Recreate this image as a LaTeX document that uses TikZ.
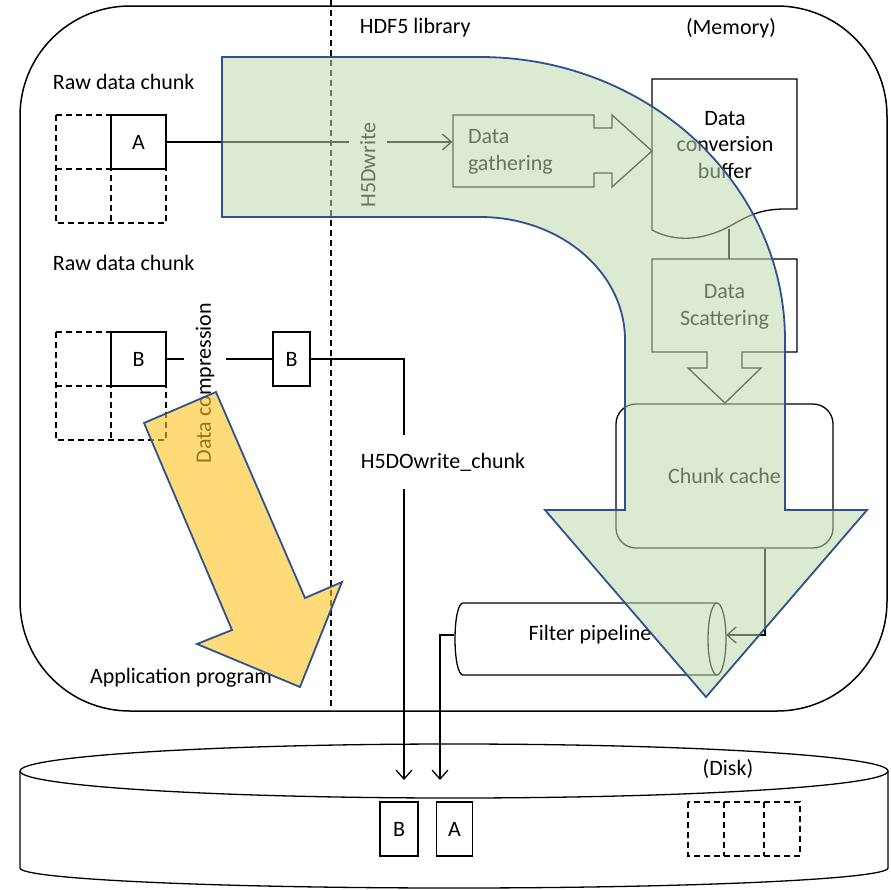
\documentclass[tikz,border=0pt]{standalone}
\usepackage{fontspec}
\setmainfont{Carlito}
\usetikzlibrary{arrows.meta}

\definecolor{flowgreen}{RGB}{190,216,170}
\definecolor{flowyellow}{RGB}{255,193,30}
\definecolor{flowedge}{RGB}{47,82,143}

\begin{document}
\begin{tikzpicture}[x=1pt,y=-1pt,line width=1.3pt,font=\fontsize{22}{26.5}\selectfont,
  chunk/.style={draw,fill=white,minimum width=55pt,minimum height=54pt,inner sep=0pt},
  slim/.style={draw,fill=white,minimum width=37pt,minimum height=54pt,inner sep=0pt},
  hole/.style={dash pattern=on 6pt off 4pt},
  wire/.style={-{Straight Barb[length=9pt,width=16pt]}},
  bigarrow/.style={draw=flowedge,line width=1.8pt}]
\useasboundingbox (0,0) rectangle (891,889);

% memory and the library border
\draw[line width=1.5pt,rounded corners=110pt] (20,6) rectangle (887,711);
\draw[hole] (331,0) -- (331,706);
\node[anchor=west] (lib) at (356,28) {HDF5 library};
\node (mem) at (731,28) {(Memory)};
\node[anchor=west] (raw1) at (49,82) {Raw data chunk};
\node[anchor=west] (raw2) at (49,263) {Raw data chunk};
\node (app) at (181,678) {Application program};

% chunk A through H5Dwrite
\draw[hole] (56,115) rectangle (166,223) (56,169) -- (166,169) (111,115) -- (111,223);
\node[chunk] (A) at (138.5,142) {A};
\node[rotate=90,inner ysep=11pt] (h5dwrite) at (368,165) {H5Dwrite};
\node[text width=111pt,inner xsep=15pt,minimum height=72pt,align=left] (gather) at (523.5,152) {Data\\gathering};
\draw (A.east) -- (A.east -| h5dwrite.north);
\draw[wire] (A.east -| h5dwrite.south) -- (A.east -| gather.west);
\draw (453,115) -- (594,115) -- (594,128) -- (612,128) -- (612,115) -- (652,151)
  -- (612,187) -- (612,173) -- (594,173) -- (594,187) -- (453,187) -- cycle;

\draw (652,230) -- (652,79) -- (797,79) -- (797,209) -- (785,209)
  .. controls (760,209) and (748,216) .. (730,226)
  .. controls (710,237) and (680,245) .. (652,230);
\node[align=center] (buffer) at (725,145) {Data\\conversion\\buffer};
\coordinate (bufbot) at (729,229);
\coordinate (scattop) at (729,259);
\draw (bufbot) -- (scattop);
\draw (707,352) -- (652,352) -- (652,259) -- (797,259) -- (797,352) -- (742,352)
  -- (742,368) -- (761,368) -- (725,403) -- (688,368) -- (707,368) -- cycle;
\node[align=center] (scatter) at (724.5,307) {Data\\Scattering};
\node[draw,rounded corners=20pt,minimum width=217pt,minimum height=144pt] (cache) at (724.5,476) {Chunk cache};

% filter pipeline
\draw (717,603) -- (463,603) .. controls (458,603) and (455,620) .. (455,639)
  .. controls (455,658) and (458,675) .. (463,675) -- (717,675);
\draw (717,639) ellipse [x radius=9,y radius=36];
\node[minimum width=271pt,minimum height=72pt,inner sep=0pt] (pipe) at (590,635) {Filter pipeline};
\coordinate (c2p) at (765,634);
\draw[wire] (cache.south -| c2p) |- (pipe.east);

% chunk B through H5DOwrite_chunk
\draw[hole] (56,332) rectangle (166,440) (56,386) -- (166,386) (111,332) -- (111,440);
\node[chunk] (B) at (138.5,359) {B};
\node[rotate=90,inner ysep=11pt] (comp) at (205,383) {Data compression};
\node[slim] (B2) at (291.5,359) {B};
\draw (B.east) -- (B.east -| comp.north);
\draw (B2.west) -- (B2.west -| comp.south);
\node[inner ysep=17pt] (h5do) at (443,462) {H5DOwrite\_chunk};
\coordinate (bend) at (404,366);
\coordinate (tipB) at (404,780);
\coordinate (tipA) at (440,780);
\draw (B2.east) -| (h5do.north -| bend);
\draw[wire] (h5do.south -| bend) -- (tipB);
\draw[wire] (pipe.west) -| (tipA);

% disk
\draw (454,771) ellipse [x radius=434,y radius=27];
\draw (20,771) -- (20,868) .. controls (20,879) and (214,888) .. (454,888)
  .. controls (694,888) and (888,879) .. (888,868) -- (888,771);
\node (disk) at (728,769) {(Disk)};
\node[slim,minimum width=38pt] (dB) at (399,829) {B};
\node[slim,minimum width=36pt] (dA) at (454.5,829) {A};
\draw[hole] (688,802) rectangle (800,856) (724,802) -- (724,856) (764,802) -- (764,856);

% the two big arrows
\path[bigarrow,fill=flowgreen,fill opacity=.55] (222,57) -- (480,57)
  .. controls (648,57) and (785,184) .. (785,340) -- (785,510) -- (867,510)
  -- (706,697) -- (545,510) -- (625,510) -- (625,340)
  .. controls (625,272) and (560,217) .. (480,217) -- (222,217) -- cycle;
\path[bigarrow,fill=flowyellow,fill opacity=.6] (144,423) -- (216,392) -- (305,598)
  -- (342,582) -- (300,687) -- (197,644) -- (232,630) -- cycle;
\end{tikzpicture}
\end{document}
